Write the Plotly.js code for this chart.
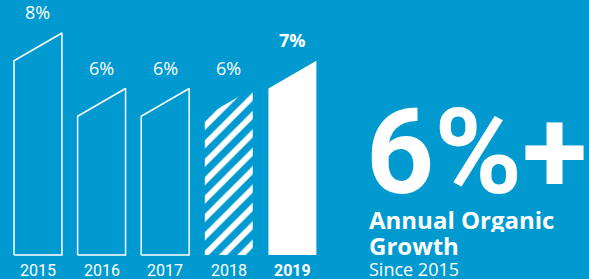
<!DOCTYPE html>
<html>
<head>
<meta charset="utf-8">
<script src="https://cdn.plot.ly/plotly-3.0.1.min.js"></script>
<style>html,body{margin:0;padding:0;background:#009ad0;}#chart{width:589px;height:279px;}</style>
</head>
<body>
<div id="chart"></div>
<script>
const years = ['2015', '2016', '2017', '2018', '2019'];
const growth = [8, 6, 6, 6, 7];
const styles = ['outline', 'outline', 'outline', 'hatch', 'solid'];
const headline = '6%+';
const subtitleLines = ['Annual Organic', 'Growth'];
const since = 'Since 2015';

const BG = '#009ad0';
const W = 0.377;   // half bar width in category units
const SLANT = 1;   // left edge lower by this many points

const traces = [];
growth.forEach((v, i) => {
  const xs = [i - W, i - W, i + W, i + W, i - W];
  const ys = [0, v - SLANT, v, 0, 0];
  const t = {x: xs, y: ys, mode: 'lines', type: 'scatter', hoverinfo: 'skip', showlegend: false};
  if (styles[i] === 'outline') {
    t.line = {color: 'white', width: 1.5};
  } else if (styles[i] === 'hatch') {
    t.fill = 'toself';
    t.line = {width: 0, color: 'rgba(0,0,0,0)'};
    t.fillcolor = BG;
    t.fillpattern = {shape: '/', fgcolor: 'white', bgcolor: BG, size: 13, solidity: 0.45};
  } else {
    t.fill = 'toself';
    t.fillcolor = 'white';
    t.line = {width: 0, color: 'white'};
  }
  traces.push(t);
});

const annotations = [];
growth.forEach((v, i) => {
  const last = i === growth.length - 1;
  annotations.push({
    x: i, y: v, xref: 'x', yref: 'y', yshift: 21, showarrow: false,
    text: last ? '<b>' + v + '%</b>' : v + '%',
    font: {family: 'Open Sans', size: 18, color: 'white'}, xanchor: 'center', yanchor: 'middle'
  });
  annotations.push({
    x: i, y: 0, xref: 'x', yref: 'y', yshift: -15, showarrow: false,
    text: last ? '<b>' + years[i] + '</b>' : years[i],
    font: {family: 'Roboto', size: 16, color: 'white'}, xanchor: 'center', yanchor: 'middle',
    height: 17, valign: 'middle'
  });
});
annotations.push({
  x: 364/589, y: 1 - 152/279, xref: 'paper', yref: 'paper', showarrow: false,
  text: '<b>' + headline + '</b>', font: {family: 'Roboto', size: 119, color: 'white'},
  xanchor: 'left', yanchor: 'middle', height: 100, valign: 'middle'
});
subtitleLines.forEach((s, k) => {
  annotations.push({
    x: 367/589, y: 1 - (219 + 26 * k)/279, xref: 'paper', yref: 'paper', showarrow: false, align: 'left',
    text: '<b>' + s + '</b>', font: {family: 'Open Sans', size: 24, color: 'white'},
    xanchor: 'left', yanchor: 'middle', height: 26, valign: 'middle'
  });
});
annotations.push({
  x: 367/589, y: 1 - 268/279, xref: 'paper', yref: 'paper', showarrow: false, align: 'left',
  text: since, font: {family: 'Open Sans', size: 18, color: 'white'},
  xanchor: 'left', yanchor: 'middle', height: 21, valign: 'middle'
});

const layout = {
  width: 589, height: 279,
  margin: {l: 0, r: 0, t: 0, b: 0, pad: 0},
  paper_bgcolor: BG, plot_bgcolor: BG,
  xaxis: {range: [-0.597, 8.663], visible: false, fixedrange: true},
  yaxis: {range: [-0.865, 9.189], visible: false, fixedrange: true},
  annotations: annotations,
  showlegend: false
};
Plotly.newPlot('chart', traces, layout, {displayModeBar: false, staticPlot: true});
</script>
</body>
</html>
